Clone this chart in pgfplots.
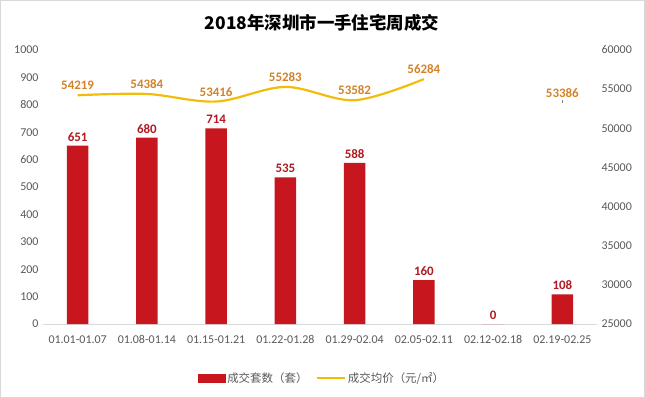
\documentclass[border=0pt]{standalone}
\usepackage{pgfplots}
\pgfplotsset{compat=1.18}
\usepackage{fontspec}
\setmainfont{Carlito}
\newfontfamily\cjk{Noto Sans CJK SC}
\definecolor{barred}{HTML}{C8161E}
\definecolor{linegold}{HTML}{F2BC0B}
\definecolor{lblorange}{HTML}{D3822A}
\definecolor{lblred}{HTML}{B01A22}
\definecolor{tickgray}{HTML}{595959}
\definecolor{basegray}{HTML}{D9D9D9}
\begin{document}
\begin{tikzpicture}
\path[use as bounding box] (0bp,0bp) rectangle (645bp,398bp);
\draw[basegray,line width=1bp] (0.5bp,0.5bp) rectangle (644.5bp,397.5bp);
\node[font=\cjk\bfseries\fontsize{17.5}{20}\selectfont] at (322bp,375bp) {2018年深圳市一手住宅周成交};
\begin{axis}[
  at={(43bp,74bp)}, anchor=south west, scale only axis,
  width=554bp, height=274bp,
  xmin=-0.5, xmax=7.5, ymin=0, ymax=1000,
  ytick={0,100,...,1000},
  scaled y ticks=false,
  xtick={0,...,7},
  xticklabels={01.01-01.07,01.08-01.14,01.15-01.21,01.22-01.28,01.29-02.04,02.05-02.11,02.12-02.18,02.19-02.25},
  axis lines*=left,
  x axis line style={draw=basegray,line width=0.8bp},
  y axis line style={draw=none},
  tick style={draw=none},
  /pgf/number format/assume math mode=true,
  /pgf/number format/1000 sep={},
  ticklabel style={font=\fontsize{12}{14}\selectfont, text=tickgray},
  yticklabel style={xshift=-1bp},
  xticklabel style={yshift=-8bp},
  clip=false,
]
\addplot[ybar, bar width=21.7bp, fill=barred, draw=none,
  nodes near coords,
  every node near coord/.append style={font=\bfseries\fontsize{13}{15}\selectfont, text=lblred, yshift=1bp}]
  coordinates {(0,651) (1,680) (2,714) (3,535) (4,588) (5,160) (6,0) (7,108)};
\end{axis}
\begin{axis}[
  at={(43bp,74bp)}, anchor=south west, scale only axis,
  width=554bp, height=274bp,
  xmin=-0.5, xmax=7.5, ymin=25000, ymax=60000,
  ytick={25000,30000,...,60000},
  scaled y ticks=false,
  axis x line=none,
  axis y line*=right,
  y axis line style={draw=none},
  tick style={draw=none},
  /pgf/number format/assume math mode=true,
  /pgf/number format/1000 sep={},
  ticklabel style={font=\fontsize{12}{14}\selectfont, text=tickgray},
  yticklabel style={xshift=1bp},
  clip=false,
  legend style={at={(0.5036,-0.197)}, anchor=center, draw=none, fill=none,
    legend columns=2, font=\cjk\fontsize{11.5}{13}\selectfont, text=tickgray,
    /tikz/every even column/.append style={column sep=6bp}},
  legend cell align=left,
]
\addlegendimage{legend image code/.code={\fill[barred] (0bp,-4bp) rectangle (27bp,4bp);}}
\addlegendentry{成交套数（套）}
\addlegendimage{legend image code/.code={\draw[linegold,line width=2.5bp] (0bp,0bp) -- (28bp,0bp);}}
\addlegendentry{成交均价（元/㎡）}
\addplot[linegold, line width=2.2bp, smooth, tension=0.55, mark=none,
  nodes near coords,
  every node near coord/.append style={font=\bfseries\fontsize{13}{15}\selectfont, text=lblorange, yshift=1bp},
  /pgf/number format/1000 sep={}]
  coordinates {(0,54219) (1,54384) (2,53416) (3,55283) (4,53582) (5,56284)};
\addplot[draw=none, mark=|, mark size=1.5bp, mark options={draw=gray, line width=0.4bp},
  nodes near coords,
  every node near coord/.append style={font=\bfseries\fontsize{13}{15}\selectfont, text=lblorange, yshift=1bp},
  /pgf/number format/1000 sep={}]
  coordinates {(7,53386)};
\end{axis}
\end{tikzpicture}
\end{document}
